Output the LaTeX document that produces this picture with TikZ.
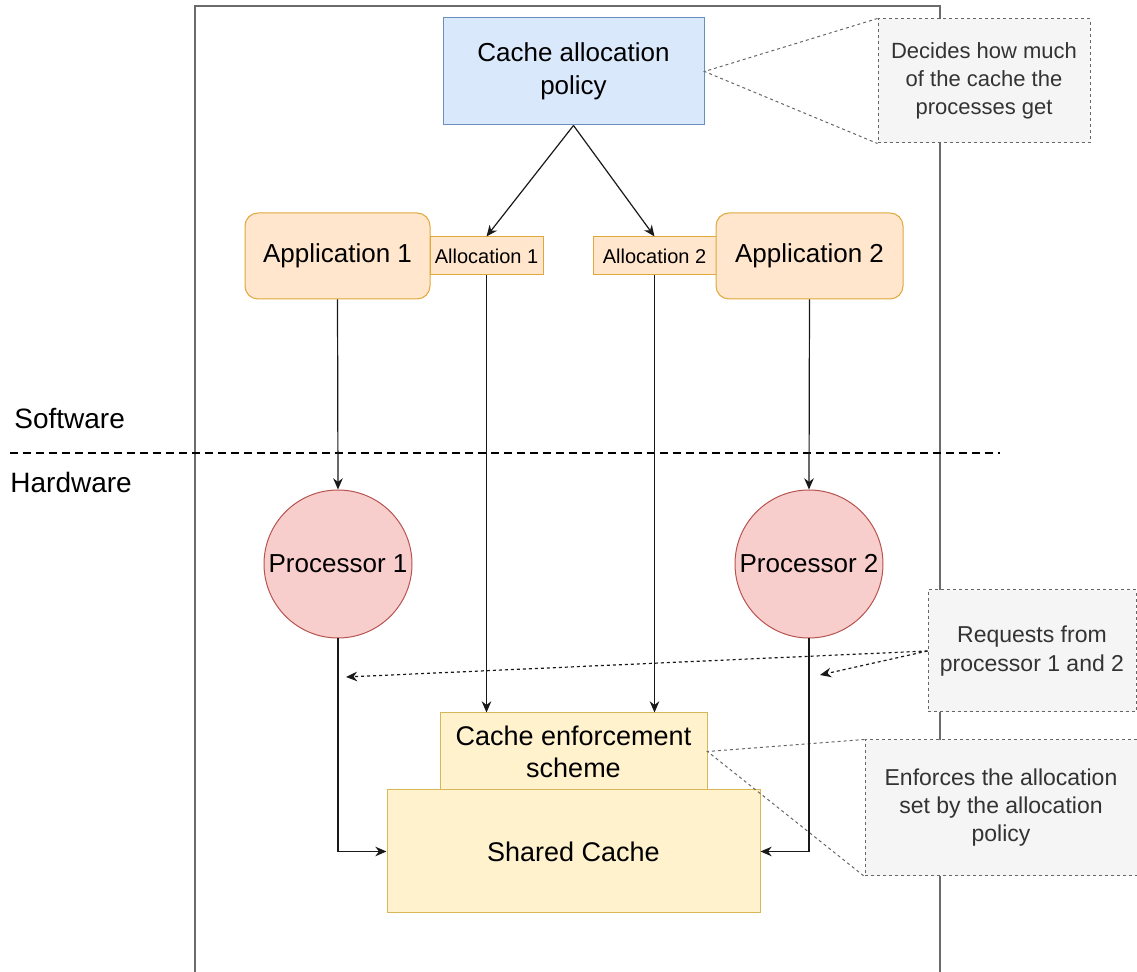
\documentclass[tikz,border=0pt]{standalone}
\usepackage{fontspec}
\setmainfont{Liberation Sans}
\usetikzlibrary{arrows.meta}

\definecolor{bluefill}{HTML}{DAE8FC}
\definecolor{bluedraw}{HTML}{6C8EBF}
\definecolor{orfill}{HTML}{FFE6CC}
\definecolor{ordraw}{HTML}{E0A83A}
\definecolor{redfill}{HTML}{F8CECC}
\definecolor{reddraw}{HTML}{B85450}
\definecolor{yelfill}{HTML}{FFF2CC}
\definecolor{yeldraw}{HTML}{D6B656}
\definecolor{notefill}{HTML}{F5F5F5}
\definecolor{notedraw}{HTML}{666666}
\definecolor{notetext}{HTML}{333333}
\definecolor{framegray}{HTML}{6B6B6B}

\tikzset{
  box/.style={draw, line width=0.5pt, inner sep=0pt, align=center, text=black},
  policybox/.style={box, fill=bluefill, draw=bluedraw,
    font=\fontsize{13}{16.5}\selectfont},
  appbox/.style={box, fill=orfill, draw=ordraw, rounded corners=6.5pt,
    minimum width=92.5pt, minimum height=43pt, font=\fontsize{13}{16.5}\selectfont},
  allocbox/.style={box, fill=orfill, draw=ordraw, minimum height=19pt,
    font=\fontsize{10}{12}\selectfont},
  procnode/.style={box, circle, fill=redfill, draw=reddraw, minimum size=74pt,
    font=\fontsize{13}{16.5}\selectfont},
  cachebox/.style={box, fill=yelfill, draw=yeldraw,
    font=\fontsize{13.5}{16}\selectfont},
  notebox/.style={draw=notedraw, fill=notefill, dash pattern=on 1.5pt off 1.5pt,
    line width=0.5pt, inner sep=0pt, align=center, text=notetext},
  pointer/.style={draw=notedraw, dash pattern=on 1.5pt off 1.5pt, line width=0.5pt},
  flow/.style={draw=black!90, line width=0.6pt,
    -{Stealth[length=5.6pt,width=4.8pt,inset=1.8pt]}},
  hint/.style={flow, dash pattern=on 1.5pt off 1.5pt},
  layerlabel/.style={anchor=west, inner sep=0pt, font=\fontsize{14}{16}\selectfont}
}

\begin{document}
\begin{tikzpicture}[x=0.5pt,y=-0.5pt]
\useasboundingbox (0,0) rectangle (1137,972);

% system frame, open at the bottom
\draw[framegray, line width=0.8pt] (195,980) -- (195,6) -- (940,6) -- (940,980);

% software / hardware split
\draw[black, line width=1.2pt, dash pattern=on 4pt off 2.5pt] (10,453) -- (1000,453);
\node[layerlabel] (sw) at (14,419) {Software};
\node[layerlabel] (hw) at (10,482) {Hardware};

% policy and its note
\node[policybox, minimum width=130.5pt, minimum height=53.5pt] (policy) at (573.5,71.5)
  {Cache allocation\\policy};
\node[notebox, minimum width=106pt, minimum height=62pt,
  font=\fontsize{11}{14}\selectfont] (note1) at (984,81)
  {Decides how much\\of the cache the\\processes get};
\draw[pointer] (note1.north west) -- (policy.east) -- (note1.south west);

% applications and their allocations
\node[appbox] (app1) at (337.5,256) {Application 1};
\node[allocbox, minimum width=56.5pt] (alloc1) at (486.5,256) {Allocation 1};
\node[allocbox, minimum width=61.5pt] (alloc2) at (654.5,256) {Allocation 2};
\node[appbox, minimum width=93.5pt] (app2) at (809.5,256) {Application 2};

% processors
\node[procnode] (proc1) at (338,564) {Processor 1};
\node[procnode] (proc2) at (809,564) {Processor 2};

% cache
\node[cachebox, minimum width=133.5pt, minimum height=38.5pt] (enforce) at (573.5,751.5)
  {Cache enforcement\\scheme};
\node[cachebox, minimum width=186.5pt, minimum height=61.5pt] (shared) at (573.5,851.5)
  {Shared Cache};

% notes on the hardware side
\node[notebox, minimum width=104pt, minimum height=61pt,
  font=\fontsize{11.5}{14.5}\selectfont] (note2) at (1032,651)
  {Requests from\\processor 1 and 2};
\node[notebox, minimum width=136pt, minimum height=68pt,
  font=\fontsize{11.5}{14}\selectfont] (note3) at (1001,808)
  {Enforces the allocation\\set by the allocation\\policy};
\draw[pointer] (note3.north west) -- (enforce.east) -- (note3.south west);

% connectors
\draw[flow] (policy.south) -- (alloc1.north);
\draw[flow] (policy.south) -- (alloc2.north);
\draw[flow] (app1.south) -- (proc1.north);
\draw[flow] (app2.south) -- (proc2.north);
\draw[flow] (alloc1.south) -- (alloc1.south |- enforce.north);
\draw[flow] (alloc2.south) -- (alloc2.south |- enforce.north);
\draw[flow] (proc1.south) |- (shared.west);
\draw[flow] (proc2.south) |- (shared.east);

\coordinate (req1) at (346,677);
\coordinate (req2) at (820,675);
\draw[hint] (note2.west) -- (req1);
\draw[hint] (note2.west) -- (req2);
\end{tikzpicture}
\end{document}
